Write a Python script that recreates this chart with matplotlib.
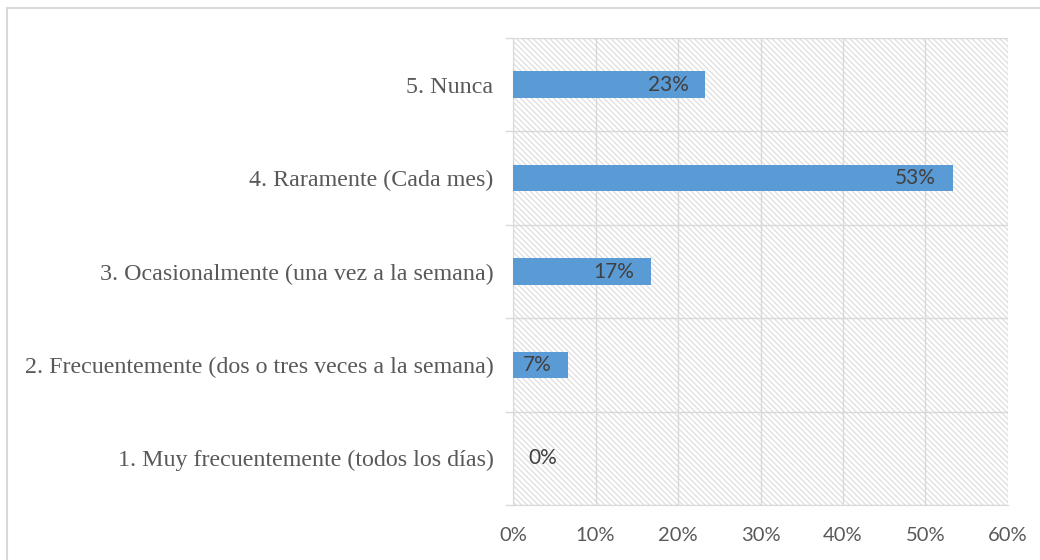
import numpy as np
import matplotlib.pyplot as plt
from matplotlib.patches import Rectangle

categorias = ['1. Muy frecuentemente (todos los días)',
              '2. Frecuentemente (dos o tres veces a la semana)',
              '3. Ocasionalmente (una vez a la semana)',
              '4. Raramente (Cada mes)',
              '5. Nunca']
valores = [0.0, 6.7, 16.7, 53.3, 23.3]
etiquetas = ['0%', '7%', '17%', '53%', '23%']
xticks = [0, 10, 20, 30, 40, 50, 60]

grid_col = '#d9d9d9'
bar_col = '#5b9bd5'

plt.rcParams['hatch.linewidth'] = 0.75

fig = plt.figure(figsize=(10.4, 5.6), dpi=100)
ax = fig.add_axes([0.4933, 0.0982, 0.4759, 0.8339])

# fondo rayado
bg = Rectangle((0, 0), 1, 1, transform=ax.transAxes, facecolor='white',
               edgecolor=grid_col, hatch='\\\\\\\\\\\\', linewidth=0, zorder=0)
ax.add_patch(bg)

y = np.arange(len(categorias))
ax.barh(y, valores, height=0.286, color=bar_col, zorder=3)

for i, (v, lab) in enumerate(zip(valores, etiquetas)):
    if v > 0:
        ax.annotate(lab, (v, i), xytext=(-12, 0), textcoords='offset points',
                    ha='right', va='center', fontsize=15, color='#404040',
                    family='Lato', zorder=4)
    else:
        ax.annotate(lab, (v, i), xytext=(11, 0), textcoords='offset points',
                    ha='left', va='center', fontsize=15, color='#404040',
                    family='Lato', zorder=4)

ax.set_xlim(0, 60)
ax.set_ylim(-0.5, len(categorias) - 0.5)
ax.set_xticks(xticks)
ax.set_xticklabels([f'{t}%' for t in xticks], family='Lato', fontsize=14.5, color='#595959')
ax.set_yticks(y)
ax.set_yticklabels(categorias, family='Liberation Serif', fontsize=17.3, color='#595959')
ax.set_yticks(np.arange(-0.5, len(categorias)), minor=True)
ax.tick_params(axis='y', which='major', length=0, pad=14)
ax.tick_params(axis='y', which='minor', length=6, color=grid_col, width=1)
ax.tick_params(axis='x', length=0, pad=16)

ax.grid(True, axis='x', color=grid_col, linewidth=1, zorder=1)
ax.grid(True, axis='y', which='minor', color=grid_col, linewidth=1, zorder=1)
ax.set_axisbelow(True)
for s in ['top', 'right']:
    ax.spines[s].set_visible(False)
ax.spines['left'].set_color(grid_col)
ax.spines['bottom'].set_color(grid_col)

# borde del gráfico
fig.patches.append(Rectangle((7 / 1040, -0.1), 1.2, 1 - 8 / 560 + 0.1,
                             transform=fig.transFigure, fill=False,
                             edgecolor=grid_col, linewidth=1.5))

fig.savefig('out.png', dpi=100)
